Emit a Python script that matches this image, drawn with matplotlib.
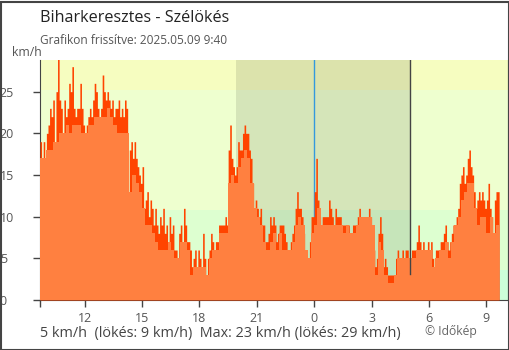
import numpy as np
import matplotlib
matplotlib.use("Agg")
import matplotlib.pyplot as plt
from matplotlib.patches import Rectangle

plt.rcParams['font.family'] = ['Open Sans', 'DejaVu Sans']

# széllökés, 5 perces értékek (km/h), 9:40-től óránként egy sor
gust = [
    19, 15, 19, 14, 20, 21, 23, 22, 24, 17, 25, 29,
    24, 23, 20, 24, 22, 23, 26, 25, 28, 23, 22, 23,
    23, 26, 23, 21, 20, 21, 22, 23, 22, 24, 26, 25,
    23, 22, 23, 27, 25, 24, 25, 24, 23, 24, 22, 23,
    23, 24, 22, 23, 22, 24, 23, 13, 18, 19, 17, 19,
    17, 16, 15, 14, 16, 11, 12, 13, 10, 12, 11, 9,
    11, 9, 8, 10, 9, 11, 8, 9, 7, 10, 8, 9,
    6, 6, 5, 8, 9, 7, 11, 9, 7, 7, 6, 4,
    5, 6, 4, 6, 5, 4, 8, 5, 3, 5, 6, 8,
    7, 6, 7, 7, 9, 9, 9, 9, 10, 9, 18, 21,
    17, 16, 15, 16, 19, 18, 18, 20, 21, 20, 20, 18,
    17, 14, 11, 12, 11, 10, 11, 9, 9, 7, 7, 8,
    10, 9, 10, 9, 7, 8, 9, 9, 9, 8, 7, 6,
    6, 7, 8, 9, 11, 13, 11, 11, 10, 8, 6, 4,
    5, 7, 10, 10, 13, 17, 12, 10, 9, 10, 10, 10,
    10, 12, 11, 10, 9, 11, 10, 10, 10, 9, 9, 9,
    9, 9, 8, 8, 9, 9, 9, 10, 11, 10, 10, 10,
    10, 10, 11, 10, 9, 6, 4, 5, 8, 10, 8, 4,
    5, 4, 3, 3, 3, 3, 3, 5, 6, 5, 5, 6,
    5, 6, 6, 5, 5, 6, 6, 6, 7, 9, 7, 6,
    7, 6, 6, 7, 6, 7, 5, 4, 6, 6, 6, 7,
    7, 8, 9, 7, 6, 7, 8, 9, 9, 10, 11, 14,
    15, 16, 14, 15, 17, 18, 16, 15, 13, 11, 12, 13,
    12, 13, 12, 11, 12, 14, 11, 10, 8, 12, 13, 13,
]

# szélsebesség, 10 perces értékek (km/h)
wind = [
    17, 17, 18, 18, 19, 19,
    20, 20, 21, 20, 21, 21,
    21, 20, 20, 21, 21, 22,
    22, 22, 22, 23, 22, 21,
    20, 20, 20, 20, 13, 15,
    14, 13, 11, 9, 9, 8,
    7, 6, 6, 6, 7, 6,
    5, 5, 7, 7, 6, 3,
    4, 4, 4, 4, 3, 5,
    6, 6, 8, 8, 8, 14,
    15, 14, 16, 17, 18, 17,
    14, 11, 10, 9, 7, 6,
    7, 8, 6, 8, 6, 6,
    6, 7, 9, 10, 9, 6,
    5, 8, 9, 11, 9, 9,
    9, 9, 9, 9, 9, 8,
    9, 8, 8, 9, 10, 10,
    10, 10, 9, 3, 7, 6,
    3, 2, 2, 3, 5, 5,
    5, 5, 5, 5, 6, 6,
    6, 6, 6, 4, 5, 6,
    6, 7, 5, 7, 9, 10,
    12, 13, 14, 14, 11, 9,
    10, 10, 8, 10, 8, 9,
]

start_h = 9 + 40 / 60          # 2025.05.08 9:40
end_h = 24 + 9 + 40 / 60       # 2025.05.09 9:40
sunset_h = 19.9
sunrise_h = 29.03

tick_pos = [12, 15, 18, 21, 24, 27, 30, 33]
tick_labels = ['12', '15', '18', '21', '0', '3', '6', '9']

# Beaufort-szerű sávok m/s határokkal (km/h-ban)
bands = [(0, 3.6, '#ccffd9'), (3.6, 10.8, '#ddffd0'),
         (10.8, 25.2, '#eeffcf'), (25.2, 40, '#f6fdc0')]

t_gust = np.append(start_h + np.arange(len(gust)) * 5 / 60, end_h)
g = np.append(gust, gust[-1])
t_wind = np.append(start_h + np.arange(len(wind)) * 10 / 60, end_h)
w = np.append(wind, wind[-1])

fig = plt.figure(figsize=(5.1, 3.5), dpi=100)
ax = fig.add_axes([40 / 510, 50 / 350, 468 / 510, 240 / 350])

for lo, hi, c in bands:
    ax.axhspan(lo, hi, color=c, lw=0, zorder=0)
ax.axvspan(sunset_h, sunrise_h, color='black', alpha=0.1, lw=0, zorder=1)
ax.axvline(24, color='#3399dd', lw=1, zorder=2)

ax.fill_between(t_gust, 0, g, step='post', color='#ff4400', lw=0, zorder=3)
ax.fill_between(t_wind, 0, w, step='post', color='#ff8040', lw=0, zorder=4)
ax.plot([sunrise_h, sunrise_h], [3.1, 30], color='#444444', lw=1, zorder=5)

ax.set_xlim(start_h, 34.13)
ax.set_ylim(0, 28.8)

ax.set_xticks([start_h] + tick_pos)
ax.set_xticklabels([''] + tick_labels)
ax.set_yticks([0, 5, 10, 15, 20, 25])
ax.tick_params(axis='both', colors='#444444', labelcolor='#555555',
               labelsize=9, length=5, width=1)
ax.tick_params(axis='y', pad=24)
for lab in ax.get_yticklabels():
    lab.set_horizontalalignment('left')
ax.xaxis.get_major_ticks()[5].tick1line.set_color('#3399dd')

ax.spines['top'].set_visible(False)
for s in ['left', 'bottom', 'right']:
    ax.spines[s].set_color('#444444')

fig.text(40 / 510, 1 - 18 / 350, 'Biharkeresztes - Szélökés', fontsize=11.6,
         color='#222222', va='center', ha='left')
fig.text(40 / 510, 1 - 40 / 350, 'Grafikon frissítve: 2025.05.09 9:40',
         fontsize=8.6, color='#555555', va='center', ha='left')
fig.text(12 / 510, 1 - 52 / 350, 'km/h', fontsize=8.8, color='#555555',
         va='center', ha='left')
fig.text(40 / 510, 1 - 334 / 350,
         '5 km/h  (lökés: 9 km/h)  Max: 23 km/h (lökés: 29 km/h)',
         fontsize=10.4, color='#444444', va='center', ha='left')
fig.text(425 / 510, 1 - 331 / 350, '© Időkép', fontsize=8.7,
         color='#666666', va='center', ha='left')

fig.patches.append(Rectangle((0.5 / 510, 0.5 / 350), 508.5 / 510, 348 / 350,
                             transform=fig.transFigure, fill=False,
                             edgecolor='#444444', lw=1.5))

fig.savefig('out.png', dpi=100)
